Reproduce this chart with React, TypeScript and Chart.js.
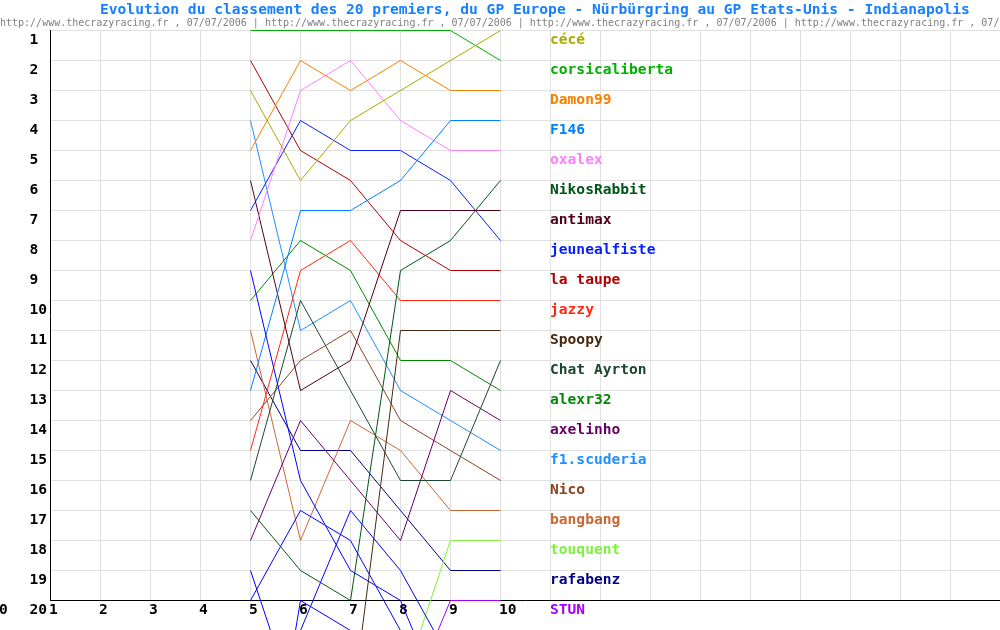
import React, { useEffect, useRef } from "react";
import { Chart, registerables } from "chart.js";

Chart.register(...registerables);

// Race index (x) for each recorded column
const races = [5, 6, 7, 8, 9, 10];
const xTickLabels = ["0", "1", "2", "3", "4", "5", "6", "7", "8", "9", "10"];
const yTickLabels = ["1", "2", "3", "4", "5", "6", "7", "8", "9", "10", "11", "12", "13", "14", "15", "16", "17", "18", "19", "20"];

const titleText = "Evolution du classement des 20 premiers, du GP Europe - Nürbürgring au GP Etats-Unis - Indianapolis";
const watermark = "http://www.thecrazyracing.fr , 07/07/2006 | ";

// Positions per driver at races 5..10 (null = not classified / off chart)
const cece = [3, 6, 4, 3, 2, 1];
const corsicaliberta = [1, 1, 1, 1, 1, 2];
const damon99 = [5, 2, 3, 2, 3, 3];
const f146 = [13, 7, 7, 6, 4, 4];
const oxalex = [8, 3, 2, 4, 5, 5];
const nikosRabbit = [17, 19, 20, 9, 8, 6];
const antimax = [6, 13, 12, 7, 7, 7];
const jeunealfiste = [7, 4, 5, 5, 6, 8];
const laTaupe = [2, 5, 6, 8, 9, 9];
const jazzy = [15, 9, 8, 10, 10, 10];
const spoopy = [null, null, 24, 11, 11, 11];
const chatAyrton = [16, 10, 13, 16, 16, 12];
const alexr32 = [10, 8, 9, 12, 12, 13];
const axelinho = [18, 14, 16, 18, 13, 14];
const f1scuderia = [4, 11, 10, 13, 14, 15];
const nico = [14, 12, 11, 14, 15, 16];
const bangbang = [11, 18, 14, 15, 17, 17];
const touquent = [null, null, null, 23, 18, 18];
const rafabenz = [12, 15, 15, 17, 19, 19];
const stun = [null, null, null, 24, 20, 20];

// Drivers that left the top 20 before the last race (unlabelled)
const other1 = [9, 16, 19, 20, 24, null];
const other2 = [20, 17, 18, 21, null, null];
const other3 = [null, 21, 17, 19, 22, null];
const other4 = [19, 24, null, null, null, null];
const other5 = [30, 20, 21, null, null, null];

const driverNames = [
  "cécé", "corsicaliberta", "Damon99", "F146", "oxalex", "NikosRabbit", "antimax",
  "jeunealfiste", "la taupe", "jazzy", "Spoopy", "Chat Ayrton", "alexr32", "axelinho",
  "f1.scuderia", "Nico", "bangbang", "touquent", "rafabenz", "STUN",
];
const driverSeries = [
  cece, corsicaliberta, damon99, f146, oxalex, nikosRabbit, antimax,
  jeunealfiste, laTaupe, jazzy, spoopy, chatAyrton, alexr32, axelinho,
  f1scuderia, nico, bangbang, touquent, rafabenz, stun,
];
const driverColors = [
  "#AAAA00", "#00B000", "#F88000", "#0080FF", "#FF80FF", "#005518", "#500018",
  "#0820FF", "#B00000", "#FF2810", "#482810", "#1C4632", "#008800", "#660066",
  "#1E90FF", "#8A4422", "#CC6633", "#80F040", "#000080", "#A000FF",
];
const otherSeries = [other1, other2, other3, other4, other5];
const otherColor = "#0000FF";

const FONT_BOLD = "bold 14.6px 'DejaVu Sans Mono', monospace";

const decorPlugin = {
  id: "decor",
  beforeDatasetsDraw(chart: any) {
    const ctx = chart.ctx as CanvasRenderingContext2D;
    const xs = chart.scales.x;
    const ys = chart.scales.y;
    const xLeft = xs.getPixelForValue(1);
    const xRight = chart.chartArea.right + 1;
    const yTop = ys.getPixelForValue(1);
    const yBottom = ys.getPixelForValue(20);
    ctx.save();

    // title
    ctx.font = FONT_BOLD;
    ctx.fillStyle = "#1680FF";
    ctx.textAlign = "left";
    ctx.textBaseline = "alphabetic";
    ctx.fillText(titleText, 100, 14);

    // watermark line
    ctx.font = "10px 'DejaVu Sans Mono', monospace";
    ctx.fillStyle = "#808080";
    ctx.fillText(watermark.repeat(5), 0, 25.5);

    // grid
    ctx.strokeStyle = "#E0E0E0";
    ctx.lineWidth = 1;
    ctx.beginPath();
    for (let v = 2; v <= 20; v++) {
      const px = xs.getPixelForValue(v);
      if (px > chart.width) break;
      ctx.moveTo(px, yTop - 0.5);
      ctx.lineTo(px, yBottom);
    }
    for (let p = 1; p < 20; p++) {
      const py = ys.getPixelForValue(p);
      ctx.moveTo(xLeft, py);
      ctx.lineTo(xRight, py);
    }
    ctx.stroke();

    // axes
    ctx.strokeStyle = "#000000";
    ctx.beginPath();
    ctx.moveTo(xLeft, yTop - 0.5);
    ctx.lineTo(xLeft, yBottom + 0.5);
    ctx.moveTo(xLeft - 0.5, yBottom);
    ctx.lineTo(xRight, yBottom);
    ctx.stroke();

    // y tick labels
    ctx.font = FONT_BOLD;
    ctx.fillStyle = "#000000";
    ctx.textAlign = "left";
    yTickLabels.forEach((lab, i) => {
      const py = ys.getPixelForValue(i + 1);
      ctx.fillText(lab, 29.5, py + 13.5);
    });
    // x tick labels
    xTickLabels.forEach((lab, i) => {
      const px = xs.getPixelForValue(i);
      ctx.fillText(lab, px - 1.5, yBottom + 13.5);
    });

    // driver names at the right
    driverNames.forEach((name, i) => {
      ctx.fillStyle = driverColors[i];
      const py = ys.getPixelForValue(i + 1);
      ctx.fillText(name, xs.getPixelForValue(11) - 0.5, py + 13.5);
    });
    ctx.restore();
  },
};

function toPoints(vals: (number | null)[]) {
  return races.map((r, i) => ({ x: r, y: vals[i] }));
}

export default function App() {
  const ref = useRef<HTMLCanvasElement | null>(null);
  useEffect(() => {
    if (!ref.current) return;
    const datasets: any[] = [];
    otherSeries.forEach((s, i) => {
      datasets.push({
        label: "other" + (i + 1),
        data: toPoints(s),
        borderColor: otherColor,
        backgroundColor: otherColor,
        borderWidth: 1,
        pointRadius: 0,
        tension: 0,
        fill: false,
        clip: false,
      });
    });
    driverSeries.forEach((s, i) => {
      datasets.push({
        label: driverNames[i],
        data: toPoints(s),
        borderColor: driverColors[i],
        backgroundColor: driverColors[i],
        borderWidth: 1,
        pointRadius: 0,
        tension: 0,
        fill: false,
        clip: false,
      });
    });
    const chart = new Chart(ref.current, {
      type: "line",
      data: { datasets },
      options: {
        responsive: false,
        animation: false,
        devicePixelRatio: 1,
        events: [],
        layout: { padding: { left: 50.5, top: 30.5, right: 0.5, bottom: 29.5 } },
        scales: {
          x: { type: "linear", min: 1, max: 19.98, display: false },
          y: { type: "linear", min: 1, max: 20, reverse: true, display: false },
        },
        plugins: {
          legend: { display: false },
          tooltip: { enabled: false },
          title: { display: false },
        },
      },
      plugins: [decorPlugin],
    } as any);
    return () => chart.destroy();
  }, []);
  return (
    <div style={{ position: "absolute", left: 0, top: 0, width: 1000, height: 630, background: "#fff", overflow: "hidden" }}>
      <canvas ref={ref} width={1000} height={630} style={{ display: "block", width: 1000, height: 630 }} />
    </div>
  );
}
